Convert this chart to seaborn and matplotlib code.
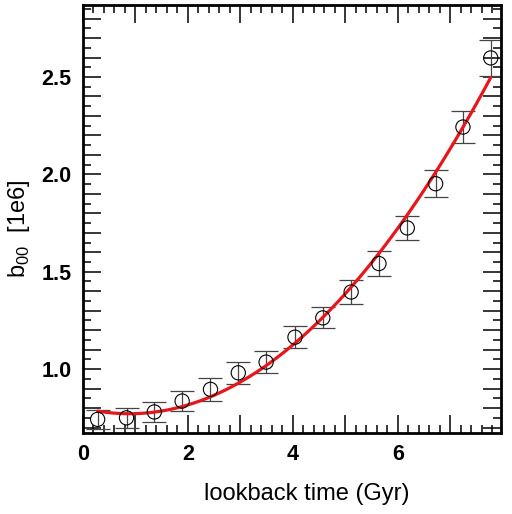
import matplotlib
matplotlib.use("Agg")
import matplotlib.pyplot as plt
import seaborn as sns
import pandas as pd
from matplotlib.ticker import MultipleLocator, FuncFormatter

# data
lookback = [0.28, 0.83, 1.36, 1.89, 2.43, 2.96, 3.49, 4.04, 4.57, 5.11, 5.64, 6.18, 6.72, 7.24, 7.77]
b00 = [0.742, 0.750, 0.780, 0.836, 0.896, 0.981, 1.036, 1.164, 1.263, 1.396, 1.542, 1.725, 1.952, 2.243, 2.598]
b00_err = [0.05, 0.05, 0.05, 0.05, 0.058, 0.056, 0.057, 0.056, 0.054, 0.062, 0.062, 0.063, 0.068, 0.08, 0.094]

df = pd.DataFrame({"t": lookback, "b": b00, "e": b00_err})

sns.set_style("ticks")
plt.rcParams["font.family"] = ["Liberation Sans", "DejaVu Sans"]
plt.rcParams["text.color"] = "black"
plt.rcParams["axes.labelcolor"] = "black"

fig = plt.figure(figsize=(5.12, 5.14), dpi=100)
ax = fig.add_axes([0.162, 0.1576, 0.817, 0.8324])

ax.errorbar(df["t"], df["b"], yerr=df["e"], fmt="none", ecolor="#444444",
            elinewidth=0.9, capsize=8.5, capthick=0.9, zorder=2)
sns.regplot(data=df, x="t", y="b", order=2, ci=None, scatter=False, ax=ax,
            line_kws=dict(color="#e8151b", lw=2.3, zorder=3))
sns.scatterplot(data=df, x="t", y="b", ax=ax, marker="o", s=105,
                facecolor="none", edgecolor="black", linewidth=0.8, zorder=4)

ax.set_xlim(0, 7.97)
ax.set_ylim(0.672, 2.869)

ax.xaxis.set_major_locator(MultipleLocator(1))
ax.xaxis.set_minor_locator(MultipleLocator(0.2))
ax.yaxis.set_major_locator(MultipleLocator(0.1))
ax.yaxis.set_minor_locator(MultipleLocator(0.05))

def xfmt(v, pos):
    r = round(v)
    return f"{r:d}" if abs(v - r) < 1e-6 and r % 2 == 0 else ""

def yfmt(v, pos):
    k = round(v * 10)
    return f"{v:.1f}" if abs(v * 10 - k) < 1e-6 and k % 5 == 0 else ""

ax.xaxis.set_major_formatter(FuncFormatter(xfmt))
ax.yaxis.set_major_formatter(FuncFormatter(yfmt))

ax.tick_params(which="both", direction="in", top=True, right=True, width=1.1,
               color="black", labelcolor="black")
ax.tick_params(which="major", length=13, labelsize=15.5, pad=8)
ax.tick_params(which="minor", length=6)
for lab in ax.get_xticklabels() + ax.get_yticklabels():
    lab.set_fontweight("bold")

for s in ax.spines.values():
    s.set_linewidth(2.0)
    s.set_color("black")

ax.set_xlabel("lookback time (Gyr)", fontsize=17, color="black")
ax.set_ylabel(r"b$_{\mathregular{00}}$  [1e6]", fontsize=17, color="black")
ax.xaxis.set_label_coords(0.534, -0.118)
ax.yaxis.set_label_coords(-0.122, 0.477)

fig.savefig("out.png", dpi=100)
